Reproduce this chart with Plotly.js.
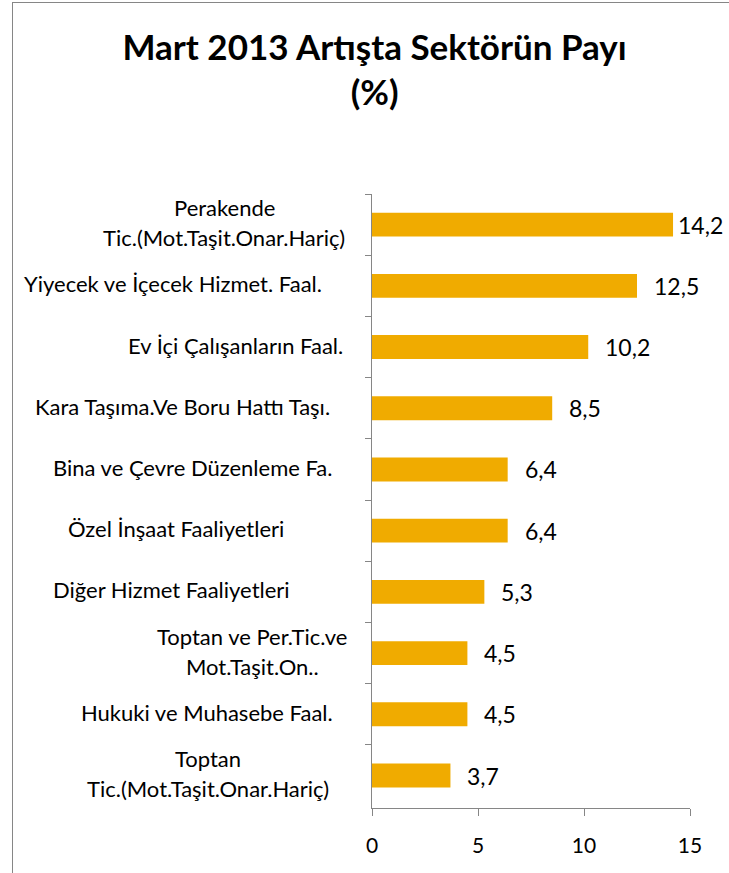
<!DOCTYPE html>
<html>
<head>
<meta charset="utf-8">
<script src="https://cdn.plot.ly/plotly-3.0.1.min.js"></script>
<style>
  html, body { margin: 0; padding: 0; background: #fff; overflow: hidden; }
  #frame { position: absolute; left: 12px; top: 2px; width: 716px; height: 870px;
           border-left: 1px solid #868686; border-top: 1px solid #868686; }
  #chart { width: 716px; height: 870px; }
</style>
</head>
<body>
<div id="frame"><div id="chart"></div></div>
<script>
// ---- data ----
const categories = [
  "Perakende<br>Tic.(Mot.Taşit.Onar.Hariç)",
  "Yiyecek ve İçecek Hizmet. Faal.",
  "Ev İçi Çalışanların Faal.",
  "Kara Taşıma.Ve Boru Hattı Taşı.",
  "Bina ve Çevre Düzenleme Fa.",
  "Özel İnşaat Faaliyetleri",
  "Diğer Hizmet Faaliyetleri",
  "Toptan ve Per.Tic.ve<br>Mot.Taşit.On..",
  "Hukuki ve Muhasebe Faal.",
  "Toptan<br>Tic.(Mot.Taşit.Onar.Hariç)"
];
const values = [14.2, 12.5, 10.2, 8.5, 6.4, 6.4, 5.3, 4.5, 4.5, 3.7];
const valueLabels = ["14,2", "12,5", "10,2", "8,5", "6,4", "6,4", "5,3", "4,5", "4,5", "3,7"];
const xTicks = [0, 5, 10, 15];

// ---- layout constants (not data) ----
const FONT = "Lato, 'Open Sans', sans-serif";
const W = 716, H = 870;
const M = { l: 359, r: 39, t: 191, b: 65 };
const plotW = W - M.l - M.r;
const xMax = 15;
// horizontal centre of each category label, in pixels left of the y axis line
const labelCenterOffset = [148, 199, 137, 190, 179, 196, 201, 120, 165, 164];
const LINE_GAP = 30;

const ids = categories.map((c, i) => "c" + i);

const annotations = [];
categories.forEach((cat, i) => {
  const lines = cat.split("<br>");
  const n = lines.length;
  lines.forEach((ln, k) => {
    annotations.push({
      xref: "paper", yref: "y",
      x: -labelCenterOffset[i] / plotW, y: ids[i],
      xanchor: "center", yanchor: "middle",
      yshift: ((n - 1) / 2 - k) * LINE_GAP + 2,
      text: ln, showarrow: false,
      font: { family: FONT, size: 22, color: "#000" }
    });
  });
});
values.forEach((v, i) => {
  const endPx = v / xMax * plotW;
  const roomy = endPx + 17 + 48 <= plotW + M.r;
  annotations.push({
    xref: "x", yref: "y", x: v, y: ids[i],
    xanchor: "left", yanchor: "middle",
    xshift: roomy ? 15 : 3, yshift: 0,
    text: valueLabels[i], showarrow: false,
    font: { family: FONT, size: 23, color: "#000" }
  });
});

const trace = {
  type: "bar", orientation: "h",
  x: values, y: ids,
  width: 0.39,
  marker: { color: "#F0AB00", line: { width: 0 } },
  hoverinfo: "skip"
};

const layout = {
  width: W, height: H,
  margin: M,
  paper_bgcolor: "#fff", plot_bgcolor: "#fff",
  showlegend: false,
  title: {
    text: "<b>Mart 2013 Artışta Sektörün Payı<br>(%)</b>",
    font: { family: FONT, size: 35, color: "#000" },
    x: 0.505, xanchor: "center", xref: "container",
    y: 0.935, yanchor: "top", yref: "container"
  },
  xaxis: {
    range: [0, xMax], tickvals: xTicks, ticktext: xTicks.map(String),
    showgrid: false, zeroline: false,
    showline: true, linecolor: "#868686", linewidth: 1,
    ticks: "outside", ticklen: 7, tickcolor: "#868686", tickwidth: 1,
    ticklabelstandoff: 12,
    tickfont: { family: FONT, size: 21, color: "#000" },
    fixedrange: true
  },
  yaxis: {
    type: "category", categoryorder: "array", categoryarray: ids,
    autorange: "reversed",
    showticklabels: false,
    tickson: "boundaries",
    ticks: "outside", ticklen: 6, tickcolor: "#868686", tickwidth: 1,
    showgrid: false, zeroline: false,
    showline: true, linecolor: "#868686", linewidth: 1,
    fixedrange: true
  },
  annotations: annotations
};

Plotly.newPlot("chart", [trace], layout, { displayModeBar: false, staticPlot: true });
</script>
</body>
</html>
